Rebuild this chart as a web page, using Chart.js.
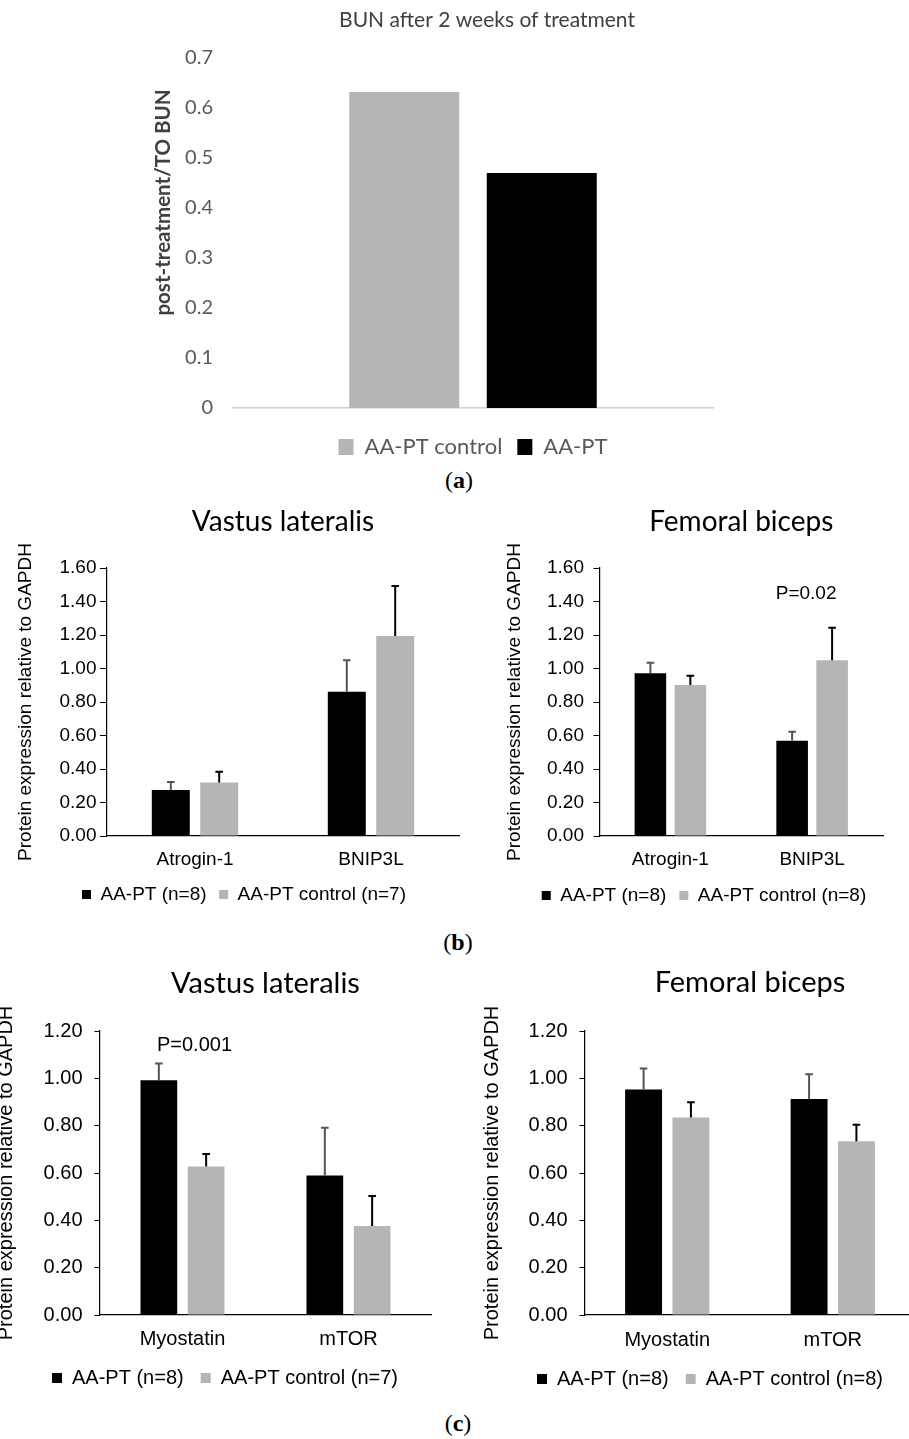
<!DOCTYPE html>
<html>
<head>
<meta charset="utf-8">
<script src="https://cdn.jsdelivr.net/npm/chart.js@4.4.1/dist/chart.umd.min.js"></script>
<style>
html,body{margin:0;padding:0;background:#fff;}
body{width:909px;height:1439px;overflow:hidden;position:relative;}
canvas{position:absolute;}
.plabel{position:absolute;font-family:"Liberation Serif","DejaVu Serif",serif;font-size:24px;color:#000;transform:translate(-50%,-50%);white-space:nowrap;line-height:1;}
</style>
</head>
<body>
<div class="plabel" style="left:459px;top:480px">(<b>a</b>)</div>
<div class="plabel" style="left:458px;top:942px">(<b>b</b>)</div>
<div class="plabel" style="left:458px;top:1423px">(<b>c</b>)</div>
<script>
// ---------------- data ----------------
const bunCategory = ['BUN'];
const bunLegend = ['AA-PT control', 'AA-PT'];
const bunControl = [0.632];
const bunAAPT = [0.470];

const markersB = ['Atrogin-1', 'BNIP3L'];
const markersC = ['Myostatin', 'mTOR'];

const legendVL = ['AA-PT (n=8)', 'AA-PT control (n=7)'];
const legendFB = ['AA-PT (n=8)', 'AA-PT control (n=8)'];

// panel b, vastus lateralis
const bVL_aapt = [0.275, 0.861];
const bVL_aapt_sd = [0.048, 0.189];
const bVL_ctrl = [0.320, 1.194];
const bVL_ctrl_sd = [0.063, 0.299];
// panel b, femoral biceps
const bFB_aapt = [0.971, 0.569];
const bFB_aapt_sd = [0.064, 0.053];
const bFB_ctrl = [0.901, 1.050];
const bFB_ctrl_sd = [0.056, 0.193];
// panel c, vastus lateralis
const cVL_aapt = [0.992, 0.589];
const cVL_aapt_sd = [0.071, 0.202];
const cVL_ctrl = [0.627, 0.376];
const cVL_ctrl_sd = [0.053, 0.127];
// panel c, femoral biceps
const cFB_aapt = [0.953, 0.913];
const cFB_aapt_sd = [0.089, 0.104];
const cFB_ctrl = [0.834, 0.734];
const cFB_ctrl_sd = [0.065, 0.070];

const yTicksB = [0, 1.6, 0.2];   // min, max, step
const yTicksC = [0, 1.2, 0.2];
const yTicksA = [0, 0.7, 0.1];

// ---------------- helpers ----------------
Chart.defaults.animation = false;
Chart.defaults.color = '#000';
Chart.defaults.events = [];
Chart.defaults.plugins.tooltip.enabled = false;

const ARIAL = '"Liberation Sans", Arial, sans-serif';
const CALIBRI = 'Lato, "Open Sans", sans-serif';

function makeCanvas(id, L, T, W, H) {
  const c = document.createElement('canvas');
  c.id = id; c.width = W; c.height = H;
  c.style.left = L + 'px'; c.style.top = T + 'px';
  c.style.width = W + 'px'; c.style.height = H + 'px';
  document.body.appendChild(c);
  return c;
}

const errorBarPlugin = {
  id: 'errorBars',
  afterDatasetsDraw(chart, args, opts) {
    const ctx = chart.ctx, ys = chart.scales.y;
    chart.data.datasets.forEach((ds, di) => {
      if (!ds.errors) return;
      const meta = chart.getDatasetMeta(di);
      meta.data.forEach((bar, i) => {
        const v = ds.data[i], e = ds.errors[i];
        const yb = ys.getPixelForValue(v), yt = ys.getPixelForValue(v + e);
        ctx.save();
        ctx.strokeStyle = ds.errorColor || '#000';
        ctx.lineWidth = opts.lineWidth || 2;
        ctx.beginPath();
        ctx.moveTo(bar.x, yb); ctx.lineTo(bar.x, yt);
        ctx.moveTo(bar.x - (opts.cap || 4), yt); ctx.lineTo(bar.x + (opts.cap || 4), yt);
        ctx.stroke();
        ctx.restore();
      });
    });
  }
};

const pNotePlugin = {
  id: 'pNote',
  afterDatasetsDraw(chart, args, opts) {
    if (!opts || !opts.text) return;
    const ctx = chart.ctx;
    const x = chart.scales.x.getPixelForValue(opts.index) + (opts.dx || 0);
    const y = chart.scales.y.getPixelForValue(opts.value);
    ctx.save();
    ctx.font = opts.font; ctx.fillStyle = opts.color || '#000';
    ctx.textAlign = 'center'; ctx.textBaseline = 'middle';
    ctx.fillText(opts.text, x, y);
    ctx.restore();
  }
};

const sideTitlePlugin = {
  id: 'sideTitle',
  afterDraw(chart, args, opts) {
    if (!opts || !opts.text) return;
    const ctx = chart.ctx, a = chart.chartArea;
    ctx.save();
    ctx.translate(a.left + opts.dx, (a.top + a.bottom) / 2 + opts.dy);
    ctx.rotate(-Math.PI / 2);
    ctx.font = opts.font; ctx.fillStyle = opts.color;
    ctx.textAlign = 'center'; ctx.textBaseline = 'middle';
    ctx.fillText(opts.text, 0, 0);
    ctx.restore();
  }
};

// ---------------- panel (a) ----------------
(function () {
  const L = 60, T = 0, W = 854, H = 468;
  const cv = makeCanvas('chartA', L, T, W, H);
  new Chart(cv, {
    type: 'bar',
    data: {
      labels: bunCategory,
      datasets: [
        {label: bunLegend[0], data: bunControl, backgroundColor: '#b4b6b6', borderWidth: 0,
         barPercentage: 0.8, categoryPercentage: 0.573, yAxisID: 'y'},
        {label: bunLegend[1], data: bunAAPT, backgroundColor: '#000', borderWidth: 0,
         barPercentage: 0.8, categoryPercentage: 0.573, yAxisID: 'y'}
      ]
    },
    options: {
      responsive: false, animation: false,
      layout: {padding: 0},
      scales: {
        x: {grid: {display: false, drawTicks: false}, border: {display: true, color: '#d0d0d0', width: 1.5},
            ticks: {display: false}, afterFit: s => { s.height = 13; }},
        y: {min: yTicksA[0], max: yTicksA[1],
            ticks: {stepSize: yTicksA[2], padding: 20, color: '#595959', font: {family: CALIBRI, size: 20}},
            grid: {display: false, drawTicks: false}, border: {display: false},
            afterFit: s => { s.width = 173; }},
        yR: {type: 'linear', position: 'right', grid: {display: false, drawTicks: false},
             border: {display: false}, ticks: {display: false}, afterFit: s => { s.width = 201; }}
      },
      plugins: {
        title: {display: true, text: 'BUN after 2 weeks of treatment', fullSize: true, color: '#404040',
                font: {family: CALIBRI, size: 21, weight: 'normal'}, padding: {top: 7.4, bottom: 25.4}},
        legend: {position: 'bottom', fullSize: false,
                 labels: {boxWidth: 15, boxHeight: 16, padding: 15, color: '#595959',
                          font: {family: CALIBRI, size: 22}}},
        sideTitle: {text: 'post-treatment/TO BUN', dx: -70, dy: -30.5, font: 'bold 20.5px Lato', color: '#404040'}
      }
    },
    plugins: [sideTitlePlugin]
  });
})();

// ---------------- panels (b) and (c) ----------------
function buildPanel(id, s, title, cats, names, aapt, aaptSd, ctrl, ctrlSd, yt, note) {
  const lhT = s.titleSize * 1.2, lhF = s.fontSize * 1.2;
  const L = Math.round(s.yTitleCx - lhF / 2);
  const W = Math.round(2 * (s.legendCx - L));
  const T = Math.round(s.titleCy - lhT / 2);
  const itemH = Math.max(s.fontSize, s.boxH);
  const legendH = itemH + s.legendPad + 10;
  const legendTop = s.legendCy - s.legendPad - itemH / 2;
  const H = Math.round(legendTop + legendH - T);
  const xH = (T + H - legendH) - s.Cb;
  const yW = s.Cl - L;
  const rW = L + W - s.Cr;
  const tTop = s.titleCy - T - lhT / 2;
  const tBot = s.Ct - s.titleCy - lhT / 2;
  const cv = makeCanvas(id, L, T, W, H);
  new Chart(cv, {
    type: 'bar',
    data: {
      labels: cats,
      datasets: [
        {label: names[0], data: aapt, errors: aaptSd, errorColor: '#555', backgroundColor: '#000',
         borderWidth: 0, barPercentage: s.barPct, categoryPercentage: s.catPct, yAxisID: 'y'},
        {label: names[1], data: ctrl, errors: ctrlSd, errorColor: '#000', backgroundColor: '#b4b6b6',
         borderWidth: 0, barPercentage: s.barPct, categoryPercentage: s.catPct, yAxisID: 'y'}
      ]
    },
    options: {
      responsive: false, animation: false,
      layout: {padding: 0},
      scales: {
        x: {grid: {display: false, drawTicks: false}, border: {display: true, color: '#000', width: 1.2},
            ticks: {padding: s.labelCy - s.Cb - lhF / 2, color: '#000', maxRotation: 0,
                    font: {family: ARIAL, size: s.fontSize}},
            afterFit: sc => { sc.height = xH; }},
        y: {min: yt[0], max: yt[1],
            ticks: {stepSize: yt[2], padding: s.tickPad, color: '#000',
                    font: {family: ARIAL, size: s.fontSize}, callback: v => Number(v).toFixed(2)},
            grid: {display: true, drawOnChartArea: false, drawTicks: true, tickLength: s.tickLen,
                   color: '#000', lineWidth: 1},
            border: {display: true, color: '#000', width: 1.2},
            title: {display: true, text: 'Protein expression relative to GAPDH', color: '#000',
                    font: {family: ARIAL, size: s.fontSize}, padding: {top: 0, bottom: 0}},
            afterFit: sc => { sc.width = yW; }},
        yR: {type: 'linear', position: 'right', grid: {display: false, drawTicks: false},
             border: {display: false}, ticks: {display: false}, afterFit: sc => { sc.width = rW; }}
      },
      plugins: {
        title: {display: true, text: title, fullSize: false, color: '#000',
                font: {family: CALIBRI, size: s.titleSize, weight: 'normal'},
                padding: {top: tTop, bottom: tBot}},
        legend: {position: 'bottom', fullSize: true,
                 labels: {boxWidth: s.boxW, boxHeight: s.boxH, padding: s.legendPad, color: '#000',
                          font: {family: ARIAL, size: s.fontSize}}},
        errorBars: {cap: 3.8, lineWidth: 2},
        pNote: note ? Object.assign({font: s.fontSize + 'px ' + ARIAL, color: '#000'}, note) : {}
      }
    },
    plugins: [errorBarPlugin, pNotePlugin]
  });
}

const layoutBL = {Cl: 107, Cr: 459, Ct: 568, Cb: 836, titleCy: 522, titleSize: 28, fontSize: 19,
  yTitleCx: 25, labelCy: 860, legendCx: 244, legendCy: 894, legendPad: 12.5, boxW: 9, boxH: 9,
  tickLen: 7, tickPad: 3.5, barPct: 0.785, catPct: 0.55};
const layoutBR = {Cl: 599.5, Cr: 883, Ct: 568, Cb: 836, titleCy: 522, titleSize: 28, fontSize: 19,
  yTitleCx: 514, labelCy: 860, legendCx: 704, legendCy: 895, legendPad: 13, boxW: 9, boxH: 9,
  tickLen: 6, tickPad: 9.5, barPct: 0.79, catPct: 0.564};
const layoutCL = {Cl: 99.5, Cr: 431.5, Ct: 1031, Cb: 1315, titleCy: 983.5, titleSize: 29, fontSize: 20,
  yTitleCx: 6, labelCy: 1339, legendCx: 225, legendCy: 1378, legendPad: 17, boxW: 10, boxH: 10,
  tickLen: 5, tickPad: 12, barPct: 0.776, catPct: 0.57};
const layoutCR = {Cl: 584.5, Cr: 915.5, Ct: 1031, Cb: 1315, titleCy: 983, titleSize: 29, fontSize: 20,
  yTitleCx: 492, labelCy: 1340, legendCx: 710, legendCy: 1379, legendPad: 17, boxW: 10, boxH: 10,
  tickLen: 5, tickPad: 12, barPct: 0.78, catPct: 0.572};

buildPanel('chartBL', layoutBL, 'Vastus lateralis', markersB, legendVL,
  bVL_aapt, bVL_aapt_sd, bVL_ctrl, bVL_ctrl_sd, yTicksB, null);
buildPanel('chartBR', layoutBR, 'Femoral biceps', markersB, legendFB,
  bFB_aapt, bFB_aapt_sd, bFB_ctrl, bFB_ctrl_sd, yTicksB, {text: 'P=0.02', index: 1, dx: -6, value: 1.445});
buildPanel('chartCL', layoutCL, 'Vastus lateralis', markersC, legendVL,
  cVL_aapt, cVL_aapt_sd, cVL_ctrl, cVL_ctrl_sd, yTicksC, {text: 'P=0.001', index: 0, dx: 12, value: 1.14});
buildPanel('chartCR', layoutCR, 'Femoral biceps', markersC, legendFB,
  cFB_aapt, cFB_aapt_sd, cFB_ctrl, cFB_ctrl_sd, yTicksC, null);
</script>
</body>
</html>
